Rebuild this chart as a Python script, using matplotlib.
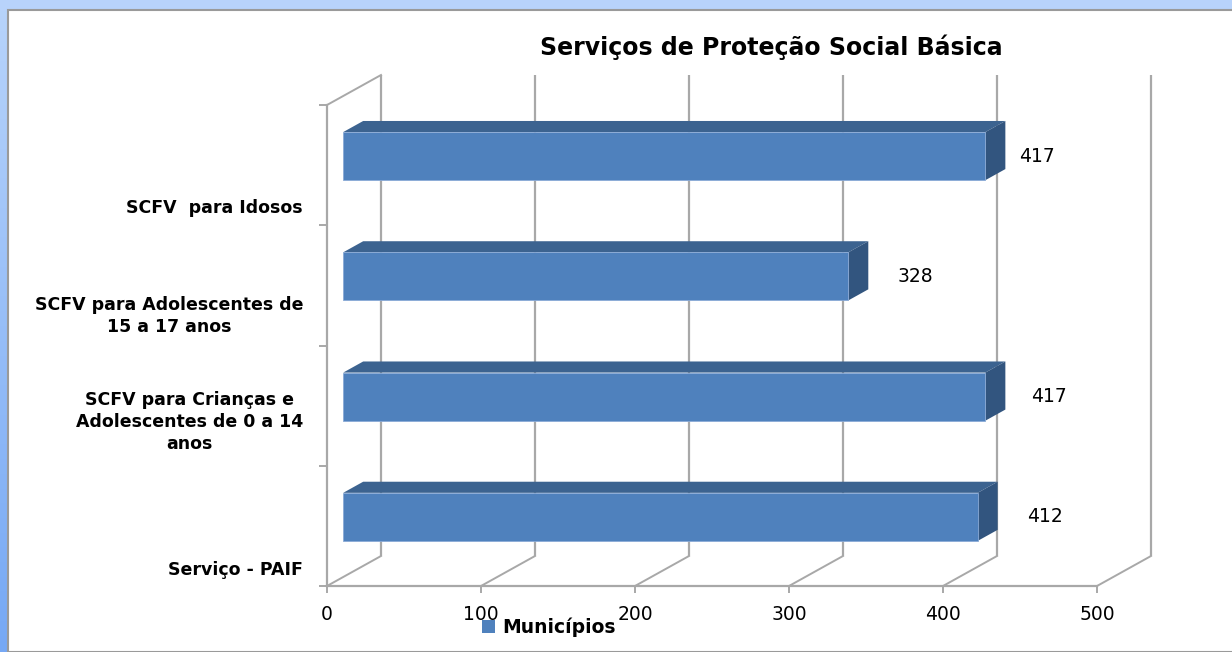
import numpy as np
import matplotlib
matplotlib.use("Agg")
import matplotlib.pyplot as plt
from matplotlib.patches import Rectangle, Polygon, Patch

# ---------------- data ----------------
categories = ["Serviço - PAIF",
              "SCFV para Crianças e\nAdolescentes de 0 a 14\nanos",
              "SCFV para Adolescentes de\n15 a 17 anos",
              "SCFV  para Idosos"]
values = [412, 417, 328, 417]
series_name = "Municípios"
title = "Serviços de Proteção Social Básica"
xticks = [0, 100, 200, 300, 400, 500]

# ---------------- style ----------------
FRONT = "#4f81bd"
TOP = "#3c6390"
SIDE = "#32557f"
GRID = "#a8a8a8"
LABEL_FONT = "DejaVu Sans"
NUM_FONT = "DejaVu Sans"

W, H = 1232, 652
fig = plt.figure(figsize=(W / 100, H / 100), dpi=100)

# background: blue frame with gradient on the left, white panel
bg = fig.add_axes([0, 0, 1, 1], zorder=-10)
grad = np.linspace(0, 1, 256).reshape(-1, 1)
top_c = np.array([184, 212, 251]) / 255
bot_c = np.array([118, 168, 244]) / 255
img = top_c[None, None, :] * (1 - grad[:, :, None]) + bot_c[None, None, :] * grad[:, :, None]
bg.imshow(img, aspect="auto", extent=[0, 1, 0, 1], origin="upper")
bg.add_patch(Rectangle((0, 1 - 10 / H), 1, 10 / H, color="#b8d3fb", zorder=1))
bg.add_patch(Rectangle((8 / W, 0), 1, 1 - 10 / H, facecolor="white",
                       edgecolor="#9a9a9a", linewidth=1.5, zorder=2))
bg.set_xlim(0, 1)
bg.set_ylim(0, 1)
bg.axis("off")

# main axes: front plane of the 3D box
x0px, x1px = 327, 1097
y0px, y1px = 586, 105
ax = fig.add_axes([x0px / W, 1 - y0px / H, (x1px - x0px) / W, (y0px - y1px) / H])
ax.set_xlim(0, 500)
ax.set_ylim(-0.5, len(categories) - 0.5)
ax.patch.set_alpha(0)

ux = 500 / (x1px - x0px)          # data units per px (x)
uy = len(categories) / (y0px - y1px)  # data units per px (y)
DX = 54 * ux                       # full depth offset in x
DY = 30 * uy                       # full depth offset in y

ylo, yhi = -0.5, len(categories) - 0.5
# back wall verticals + floor diagonals
for v in xticks:
    ax.plot([v + DX, v + DX], [ylo + DY, yhi + DY], color=GRID, lw=1.6,
            clip_on=False, zorder=1, solid_capstyle="butt")
    ax.plot([v, v + DX], [ylo, ylo + DY], color=GRID, lw=1.4, clip_on=False, zorder=1)
ax.plot([0, DX], [yhi, yhi + DY], color=GRID, lw=1.4, clip_on=False, zorder=1)

# spines = front floor and front left wall edge
for s in ["top", "right"]:
    ax.spines[s].set_visible(False)
for s in ["left", "bottom"]:
    ax.spines[s].set_color(GRID)
    ax.spines[s].set_linewidth(1.6)

ax.set_xticks(xticks)
ax.set_xticklabels([str(t) for t in xticks], fontsize=13.5, family=NUM_FONT)
ax.tick_params(axis="x", direction="out", length=5, width=1.4, color=GRID, pad=9)
ax.set_yticks(np.arange(ylo, yhi + 0.01, 1.0))
ax.set_yticklabels([])
ax.tick_params(axis="y", direction="out", length=6, width=1.4, color=GRID)

# 3D bars
d0, d1 = 0.30, 0.67
bh = 0.40
for i, v in enumerate(values):
    bx = d0 * DX
    yc = i + d0 * DY
    ddx, ddy = (d1 - d0) * DX, (d1 - d0) * DY
    yb, yt = yc - bh / 2, yc + bh / 2
    ax.add_patch(Polygon([(bx, yt), (bx + v, yt), (bx + v + ddx, yt + ddy), (bx + ddx, yt + ddy)],
                         closed=True, facecolor=TOP, edgecolor="none", zorder=3, clip_on=False))
    ax.add_patch(Polygon([(bx + v, yb), (bx + v, yt), (bx + v + ddx, yt + ddy), (bx + v + ddx, yb + ddy)],
                         closed=True, facecolor=SIDE, edgecolor="none", zorder=3, clip_on=False))
    ax.add_patch(Rectangle((bx, yb), v, bh, facecolor=FRONT, edgecolor="#8aaad6",
                           linewidth=0.6, zorder=4, clip_on=False))

# value labels
label_dx = [54, 52, 54, 44]
for i, v in enumerate(values):
    ax.text(v + label_dx[i], i + d0 * DY, str(v), ha="center", va="center",
            fontsize=13.5, family=NUM_FONT, color="black", clip_on=False, zorder=5)

# category labels (placed left of the front axis)
cat_dy = [-0.367, -0.136, -0.255, -0.357]
for i, c in enumerate(categories):
    ax.text(-24 * ux, i + cat_dy[i], c, ha="right", va="center", multialignment="center",
            fontsize=12.5, fontweight="bold", family=LABEL_FONT, linespacing=1.3,
            clip_on=False)

# title
fig.text(771 / W, 1 - 47 / H, title, ha="center", va="center",
         fontsize=17, fontweight="bold", family=LABEL_FONT)

# legend
fig.legend(handles=[Patch(facecolor=FRONT, edgecolor="none", label=series_name)],
           loc="center", bbox_to_anchor=(549 / W, 1 - 627 / H), frameon=False,
           prop={"family": LABEL_FONT, "weight": "bold", "size": 13.5},
           handlelength=0.7, handleheight=0.7, handletextpad=0.4)

fig.savefig("out.png", dpi=100)
